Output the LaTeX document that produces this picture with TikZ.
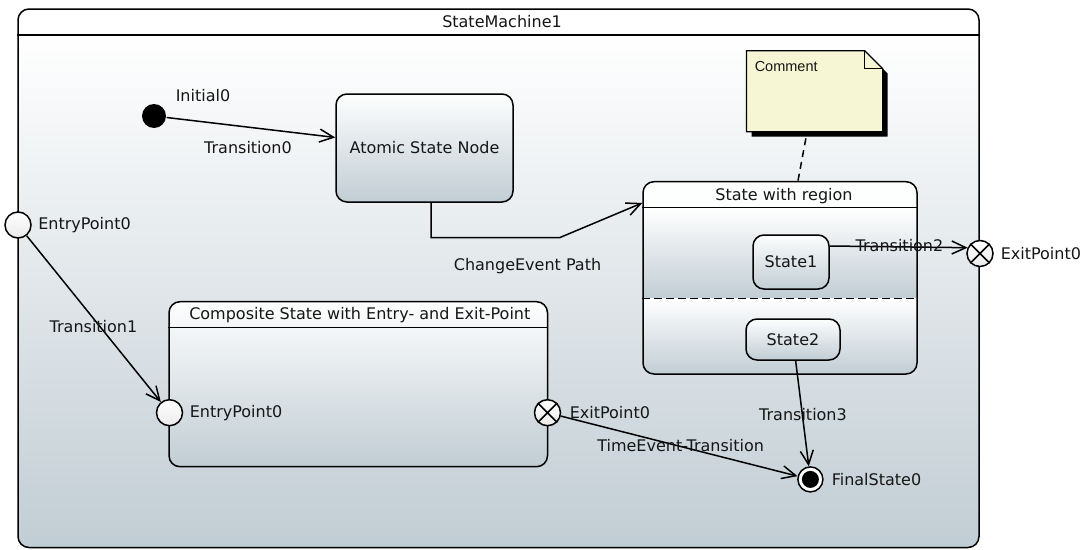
\documentclass[tikz,border=0pt]{standalone}
\usepackage{fontspec}
\setmainfont{DejaVu Sans}
\newfontfamily\commentfont{Liberation Sans}
\usetikzlibrary{arrows.meta}
\definecolor{gbot}{RGB}{193,205,212}
\definecolor{gtop}{RGB}{253,254,254}
\definecolor{notey}{RGB}{246,246,212}
\definecolor{txt}{RGB}{22,22,22}
\begin{document}
\begin{tikzpicture}[x=1pt,y=-1pt,
  font=\fontsize{16}{19}\selectfont, line width=1.5pt,
  arr/.style={-{Straight Barb[length=14pt,width=13pt,line width=1.5pt]}},
  lbl/.style={text=txt, inner sep=0},
  llbl/.style={lbl, anchor=west},
  statebox/.style={draw, rounded corners=11pt, top color=gtop, bottom color=gbot, text=txt, inner sep=0},
  framebox/.style={draw, rounded corners=11pt, inner sep=0},
  pseudo/.style={circle, draw, inner sep=0, minimum size=26pt, top color=white, bottom color=black!8},
  exitpt/.style={pseudo},
  initst/.style={circle, fill=black, inner sep=0, minimum size=24pt},
  finalst/.style={circle, draw, fill=white, inner sep=0, minimum size=25pt,
     path picture={\fill[black] (path picture bounding box.center) circle (8.5pt);}},
]
\useasboundingbox (0,0) rectangle (1087,549);

% ---------- state machine frame ----------
\begin{scope}
  \clip[rounded corners=11pt] (18,9) rectangle (979,547.5);
  \fill[white] (18,9) rectangle (979,35);
  \shade[top color=white, bottom color=gbot] (18,35) rectangle (979,548);
\end{scope}
\node[framebox, minimum width=961pt, minimum height=538.5pt] (sm) at (498.5,278.25) {};
\draw (sm.west |- 0,35) -- (sm.east |- 0,35);
\node[lbl] (smtitle) at (502,22) {StateMachine1};

% ---------- comment ----------
\node[inner sep=0, minimum width=136pt, minimum height=81pt] (comment) at (814.6,91.2) {};
\fill[black] (751.5,55.7) -- (869.7,55.7) -- (887.7,73.7) -- (887.7,136.7) -- (751.5,136.7) -- cycle;
\filldraw[fill=notey, line width=1.2pt] (746.5,50.7) -- (864.7,50.7) -- (882.7,68.7) -- (882.7,131.7) -- (746.5,131.7) -- cycle;
\draw[line width=1.2pt] (864.7,50.7) -- (864.7,68.7) -- (882.7,68.7);
\node[lbl, anchor=west, font=\commentfont\fontsize{14.5}{17}\selectfont] (commenttext) at (754,66.7) {Comment};

% ---------- initial + atomic ----------
\node[initst] (init) at (154,116) {};
\node[llbl] (initlbl) at (175,96) {Initial0};
\node[statebox, minimum width=177pt, minimum height=108pt] (atomic) at (424.5,148) {Atomic State Node};
\draw[arr] (init) -- (atomic);
\node[lbl] (t0lbl) at (248,148) {Transition0};

% ---------- outer entry point ----------
\node[pseudo] (ep0) at (18,225) {};
\node[llbl] (ep0lbl) at (37.5,225) {EntryPoint0};

% ---------- composite state ----------
\node[statebox, minimum width=378.5pt, minimum height=165pt] (comp) at (358.25,384.2) {};
\draw (comp.west |- 0,327.7) -- (comp.east |- 0,327.7);
\node[lbl] (comptitle) at (359.8,315) {Composite State with Entry- and Exit-Point};
\node[pseudo] (ep1) at (169.5,412.7) {};
\node[llbl] (ep1lbl) at (189,412.7) {EntryPoint0};
\node[exitpt] (xp1) at (547.5,412.7) {};
\draw (xp1.north west) -- (xp1.south east) (xp1.north east) -- (xp1.south west);
\node[llbl] (xp1lbl) at (569,412.7) {ExitPoint0};

\draw[arr] (ep0) -- (ep1);
\node[lbl] (t1lbl) at (93.5,327) {Transition1};

% ---------- state with region ----------
\begin{scope}
  \clip[rounded corners=11pt] (643,181.7) rectangle (917,374);
  \fill[gtop] (643,181.7) rectangle (917,207.7);
  \shade[top color=white, bottom color=gbot] (643,207.7) rectangle (917,298.3);
  \shade[top color=white, bottom color=gbot] (643,298.3) rectangle (917,374);
\end{scope}
\node[framebox, minimum width=274pt, minimum height=192.3pt] (reg) at (780,277.85) {};
\draw (reg.west |- 0,207.7) -- (reg.east |- 0,207.7);
\draw[dash pattern=on 8pt off 4pt] (reg.west |- 0,298.3) -- (reg.east |- 0,298.3);
\node[lbl] (regtitle) at (784,195.7) {State with region};
\node[statebox, minimum width=76pt, minimum height=54pt] (state1) at (791,262) {State1};
\node[statebox, minimum width=94pt, minimum height=41pt] (state2) at (793,339.5) {State2};

\draw[dash pattern=on 7pt off 5pt, shorten <=6pt] (comment) -- (reg);

% ---------- change event ----------
\coordinate (ce1) at (431,237.5);
\coordinate (ce2) at (560,237.5);
\draw[arr] (atomic.south -| ce1) -- (ce1) -- (ce2) -- ([yshift=-22pt]reg.north west);
\node[lbl] (celbl) at (527.5,266) {ChangeEvent Path};

% ---------- outer exit point ----------
\node[exitpt] (xp2) at (980,253.5) {};
\draw (xp2.north west) -- (xp2.south east) (xp2.north east) -- (xp2.south west);
\node[llbl] (xp2lbl) at (1000,253.5) {ExitPoint0};
\draw[arr] ([yshift=16pt]state1.east) -- (xp2.155);
\node[lbl] (t2lbl) at (899.5,246) {Transition2};

% ---------- final state ----------
\node[finalst] (fin) at (810.4,479.4) {};
\node[llbl] (finlbl) at (831,479.4) {FinalState0};
\draw[arr] (state2) -- (fin);
\node[lbl] (t3lbl) at (803,415) {Transition3};
\draw[arr] (xp1) -- (fin);
\node[lbl] (telbl) at (680.6,446) {TimeEvent-Transition};
\end{tikzpicture}
\end{document}
